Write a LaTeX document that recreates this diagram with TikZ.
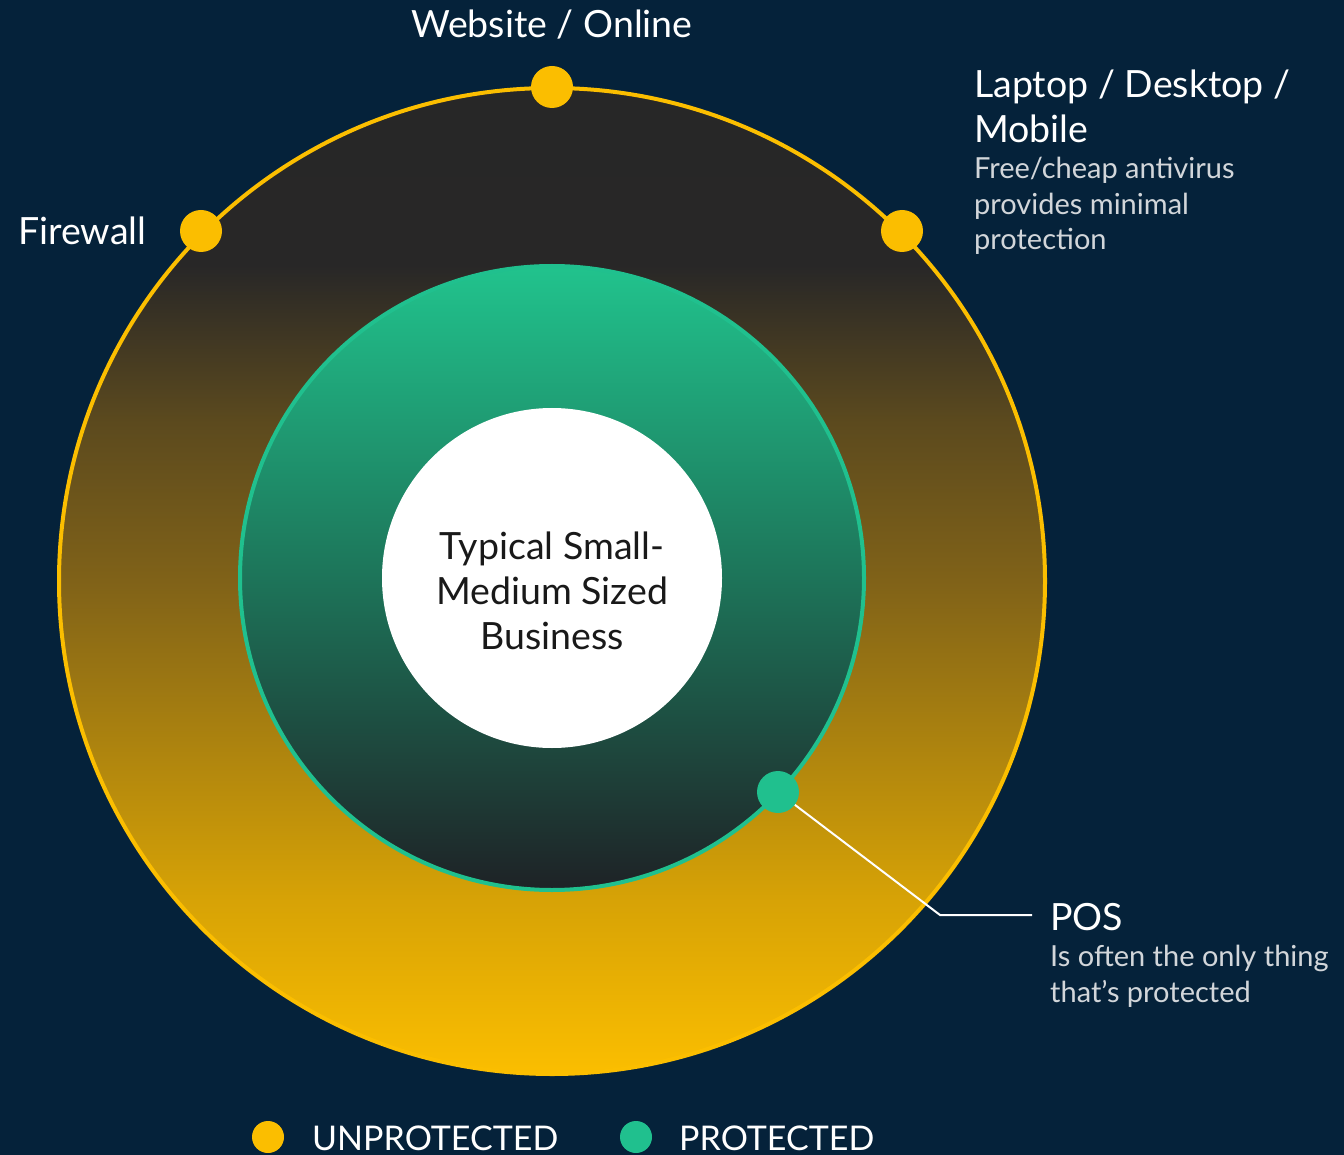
\documentclass[tikz,border=0pt]{standalone}
\usepackage{fontspec}
\setmainfont{Lato}
\usepackage{tikz}
\usetikzlibrary{positioning}
\definecolor{navy}{HTML}{05223A}
\definecolor{ylw}{HTML}{FBBE00}
\definecolor{grn}{HTML}{20C08E}
\definecolor{subgray}{HTML}{D2D6DA}
\definecolor{gold1}{HTML}{D6A206}
\definecolor{gold2}{HTML}{806218}
\definecolor{gold3}{HTML}{5C4A1E}
\definecolor{char1}{HTML}{282727}
\definecolor{char2}{HTML}{272727}
\definecolor{ink1}{HTML}{1E2226}
\definecolor{teal1}{HTML}{1D7459}
\definecolor{teal2}{HTML}{21C38D}
% outer ring: dark on top, gold at the bottom
\pgfdeclareverticalshading{outershade}{100bp}{color(0bp)=(ylw); color(25bp)=(ylw);
  color(34bp)=(gold1); color(50bp)=(gold2); color(58bp)=(gold3);
  color(66bp)=(char1); color(75bp)=(char2); color(100bp)=(char2)}
\pgfdeclareverticalshading{innershade}{100bp}{color(0bp)=(ink1); color(25bp)=(ink1);
  color(50bp)=(teal1); color(75bp)=(teal2); color(100bp)=(teal2)}
\tikzset{
  big/.style={font=\fontsize{37.5}{45}\selectfont,text=white,inner sep=0pt},
  small/.style={font=\fontsize{29}{35.5}\selectfont,text=subgray,inner sep=0pt,align=left},
  ydot/.style={circle,fill=ylw,minimum size=42pt,inner sep=0pt},
  gdot/.style={circle,fill=grn,minimum size=42pt,inner sep=0pt},
  ring/.style={circle,inner sep=0pt}
}
\begin{document}
\begin{tikzpicture}[x=1pt,y=-1pt]
\fill[navy] (0,0) rectangle (1344,1155);
\useasboundingbox (0,0) rectangle (1344,1155);
% circles
\node[ring,minimum size=986pt,shading=outershade,draw=ylw,line width=4pt] (outer) at (552,581) {};
\node[ring,minimum size=624pt,shading=innershade,draw=grn,line width=4pt] (inner) at (552,578) {};
\node[ring,minimum size=340pt,fill=white] (core) at (552,578) {};
\node[big,text=black!90,align=center] (biz) at (552,591)
  {Typical Small-\\Medium Sized\\Business};
% points on the rings
\node[ydot] (web) at (552,87) {};
\node[ydot] (fw) at (201,231) {};
\node[ydot] (lap) at (902,231) {};
\node[gdot] (pos) at (778,792) {};
% labels
\node[big,anchor=base] (webLbl) at (552,38) {Website / Online};
\node[big,anchor=base west] (fwLbl) at (18,245) {Firewall};
\node[big,anchor=base west] (lapLbl) at (974,98) {Laptop / Desktop /};
\node[big,anchor=base west] (lapLbl2) at (974,143) {Mobile};
\node[small,anchor=north west] (lapSub) at (974,157) {Free/cheap antivirus\\provides minimal\\protection};
\node[big,anchor=base west] (posLbl) at (1050,930) {POS};
\node[small,anchor=north west] (posSub) at (1050,945) {Is often the only thing\\that’s protected};
% connector
\coordinate (bend) at (940,915);
\coordinate (tip) at (1032,915);
\draw[white,line width=2pt] (pos) -- (bend) -- (tip);
% legend
\node[ydot,minimum size=32pt] (keyU) at (268,1137) {};
\node[big,anchor=base west,font=\fontsize{34}{40}\selectfont] (keyUlbl) at (312,1150) {UNPROTECTED};
\node[gdot,minimum size=32pt] (keyP) at (636,1137) {};
\node[big,anchor=base west,font=\fontsize{34}{40}\selectfont] (keyPlbl) at (679,1150) {PROTECTED};
\end{tikzpicture}
\end{document}
